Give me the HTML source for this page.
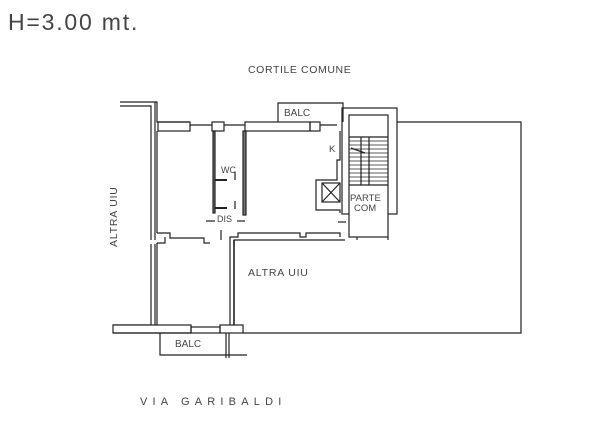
<!DOCTYPE html>
<html><head><meta charset="utf-8"><style>
html,body{margin:0;padding:0;background:#fff;}
svg{display:block;}
text{font-family:"Liberation Sans",sans-serif;fill:#444;}
</style></head><body>
<svg width="612" height="425" viewBox="0 0 612 425" xmlns="http://www.w3.org/2000/svg">
<g fill="none" stroke="#222" stroke-width="1.2">
<polyline points="120,102 155,102 155,240"/>
<polyline points="120,106 151,106 151,240"/>
<polyline points="151,244 151,325 113,325"/>
<polyline points="155,244 155,325"/>
<polyline points="155,102 157,102 157,122 190,122"/>
<rect x="158" y="122" width="32" height="9"/>
<line x1="190" y1="125" x2="212" y2="125"/>
<rect x="212" y="122" width="12" height="9"/>
<line x1="224" y1="125" x2="245" y2="125"/>
<rect x="245" y="122" width="65" height="9"/>
<rect x="310" y="122" width="10" height="9"/>
<line x1="320" y1="125" x2="337" y2="125"/>
<polyline points="278,122 278,103 343,103 343,122"/>
<line x1="157" y1="131" x2="157" y2="233"/>
<polyline points="157,233 170,233 170,238 204,238 204,243 210,243"/>
<line x1="157" y1="243" x2="157" y2="325"/>
<polyline points="157,243 165,243 165,237"/>
<rect x="213" y="131" width="2" height="82" fill="#777"/>
<rect x="243" y="131" width="3" height="84" fill="#777"/>
<line x1="215" y1="180" x2="227" y2="180" stroke-width="2"/>
<line x1="215" y1="208" x2="227" y2="208" stroke-width="2"/>
<line x1="235" y1="172" x2="235" y2="180"/>
<line x1="235" y1="201" x2="235" y2="209"/>
<line x1="206" y1="221" x2="215" y2="221"/><line x1="237" y1="221" x2="245" y2="221"/>
<line x1="221" y1="230" x2="221" y2="240"/>
<polyline points="230,245 230,237 238,237 238,233 300,233 300,237 306,237 306,233 340,233 340,237"/>
<polyline points="234,245 234,240 345,240"/>
<line x1="234" y1="240" x2="234" y2="325" stroke-width="1.6"/>
<line x1="230" y1="245" x2="230" y2="325"/>
<polyline points="340,131 340,160 337,160 337,180 316,180 316,210 340,210 340,213"/>
<rect x="322" y="183" width="18" height="19"/>
<line x1="322" y1="183" x2="340" y2="202"/><line x1="340" y1="183" x2="322" y2="202"/>
<line x1="346" y1="222" x2="338" y2="222"/>
<rect x="342" y="108" width="55" height="106"/>
<rect x="349" y="115" width="39" height="122" fill="#fff"/>
<line x1="349" y1="137" x2="388" y2="137"/>
<line x1="361" y1="137" x2="361" y2="185"/><line x1="369" y1="137" x2="369" y2="185"/>
<line x1="349" y1="185" x2="388" y2="185"/>
<path d="M349 141H388M349 145H388M349 149H388M349 153H388M349 157H388M349 161H388M349 165H388M349 169H388M349 173H388M349 177H388M349 181H388" stroke-width="0.7"/>
<line x1="351" y1="148" x2="365" y2="153"/>
<line x1="357" y1="237" x2="357" y2="240"/><line x1="388" y1="237" x2="388" y2="240"/>
<polyline points="397,122 521,122 521,333 243,333"/>
<rect x="113" y="325" width="78" height="8" fill="#fff"/>
<line x1="113" y1="333" x2="191" y2="333"/>
<rect x="191" y="327" width="29" height="6"/>
<rect x="220" y="325" width="23" height="8"/>
<polyline points="160,333 160,355 228,355"/>
<line x1="226" y1="333" x2="226" y2="358"/><line x1="229" y1="333" x2="229" y2="358"/>
<line x1="228" y1="355" x2="247" y2="355"/>
</g>
<text x="8" y="30" font-size="23" letter-spacing="1.8">H=3.00 mt.</text>
<text x="248" y="73" font-size="10.5" letter-spacing="0.6">CORTILE COMUNE</text>
<text x="140" y="405" font-size="11" letter-spacing="5.2">VIA GARIBALDI</text>
<text x="248" y="276" font-size="10.5" letter-spacing="0.8">ALTRA UIU</text>
<text transform="translate(117,247) rotate(-90)" font-size="10.5" letter-spacing="0.8">ALTRA UIU</text>
<text x="284" y="116" font-size="10">BALC</text>
<text x="175" y="347" font-size="10">BALC</text>
<text x="221" y="173" font-size="9">WC</text>
<text x="217" y="222" font-size="9">DIS</text>
<text x="329" y="152" font-size="9.5">K</text>
<text x="350" y="201" font-size="9.5">PARTE</text>
<text x="354" y="211" font-size="9.5">COM</text>
</svg>
</body></html>
